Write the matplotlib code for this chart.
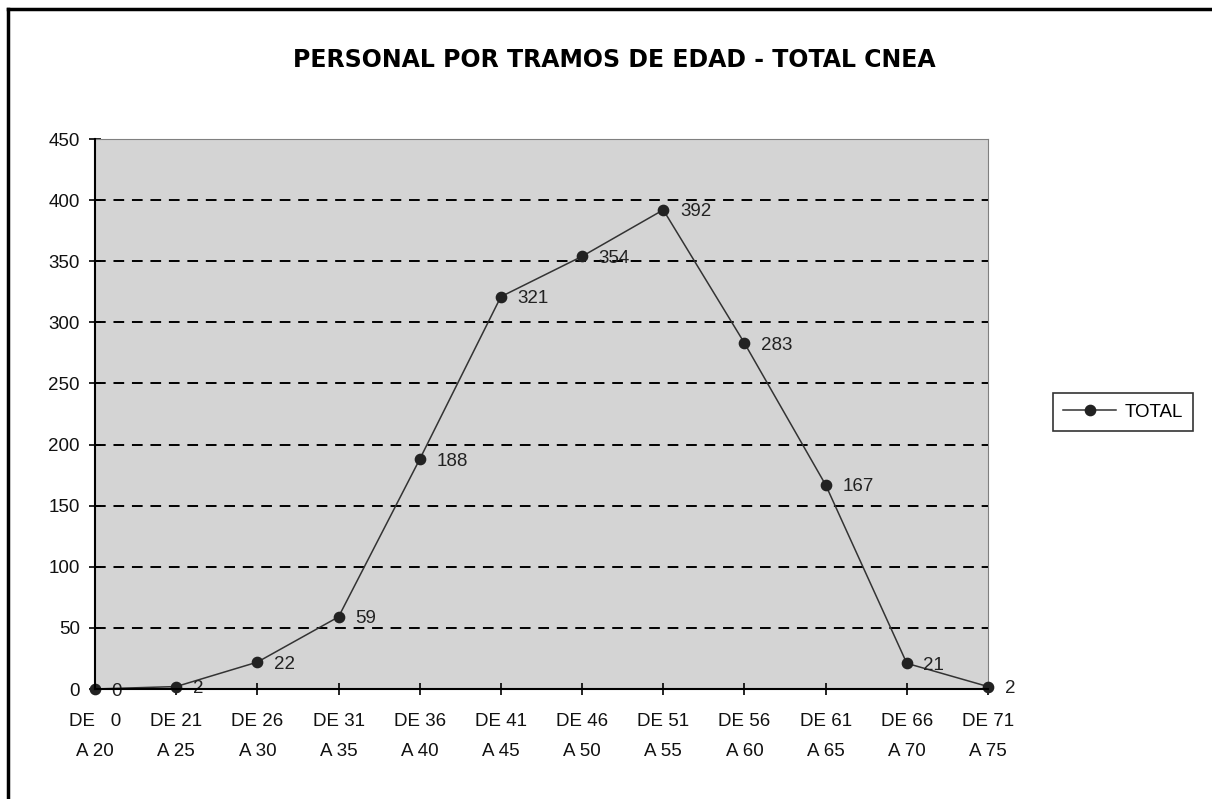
import matplotlib
matplotlib.use("Agg")
import matplotlib.pyplot as plt
from matplotlib.lines import Line2D
import numpy as np

categories = ["DE   0\nA 20", "DE 21\nA 25", "DE 26\nA 30", "DE 31\nA 35", "DE 36\nA 40",
              "DE 41\nA 45", "DE 46\nA 50", "DE 51\nA 55", "DE 56\nA 60", "DE 61\nA 65",
              "DE 66\nA 70", "DE 71\nA 75"]
values = [0, 2, 22, 59, 188, 321, 354, 392, 283, 167, 21, 2]
yticks = [0, 50, 100, 150, 200, 250, 300, 350, 400, 450]
title = "PERSONAL POR TRAMOS DE EDAD - TOTAL CNEA"
series_name = "TOTAL"

plt.rcParams['font.family'] = ['Liberation Sans', 'DejaVu Sans']

W, H = 1212, 799
fig = plt.figure(figsize=(W / 100, H / 100), dpi=100)
ax = fig.add_axes([95 / W, 1 - 689 / H, (988 - 95) / W, (689 - 139) / H])
ax.set_facecolor("#D4D4D4")

x = np.arange(len(values))
y = np.array(values, dtype=float)

ax.plot(x, y, linestyle="-", lw=1.1, color="#333333", marker="o", markersize=7.4,
        markerfacecolor="#222222", markeredgecolor="#222222", zorder=4, clip_on=False)

for xi, yi in zip(x, y):
    ax.annotate(str(int(yi)), (xi, yi), xytext=(12, -1.5), textcoords="offset points",
                ha="left", va="center", fontsize=13.5, color="#222222", zorder=5,
                annotation_clip=False)

ax.set_xlim(0, len(values) - 1)
ax.set_ylim(0, 450)
ax.set_yticks(yticks)
ax.set_yticklabels([str(t) for t in yticks], fontsize=13.5, color="#111111")
ax.set_xticks(x)
ax.set_xticklabels(categories, fontsize=13.5, linespacing=2.0, color="#111111")
ax.tick_params(axis="both", direction="inout", length=8, width=1.2, color="black")
ax.tick_params(axis="y", pad=7)
ax.tick_params(axis="x", pad=13)

ax.yaxis.grid(True, linestyle=(0, (5.5, 4.0)), color="black", linewidth=1.4)
ax.set_axisbelow(True)

ax.spines["left"].set_color("black")
ax.spines["bottom"].set_color("black")
ax.spines["left"].set_linewidth(1.5)
ax.spines["bottom"].set_linewidth(1.5)
ax.spines["left"].set_zorder(5)
ax.spines["bottom"].set_zorder(5)
ax.spines["top"].set_color("#808080")
ax.spines["right"].set_color("#808080")

fig.text(614 / W, 1 - 60 / H, title, ha="center", va="center", fontsize=17,
         fontweight="bold", family=["DejaVu Sans"])

handle = Line2D([], [], color="#333333", marker="o", markersize=7.4,
                markerfacecolor="#222222", markeredgecolor="#222222", lw=1.1)
leg = fig.legend([handle], [series_name], loc="center", bbox_to_anchor=(1123 / W, 1 - 412 / H),
                 fontsize=13.5, frameon=True, fancybox=False, edgecolor="black",
                 handlelength=2.8, borderpad=0.55, handletextpad=0.45, borderaxespad=0)
leg.get_frame().set_linewidth(1.2)

# outer frame (top and left visible)
fig.add_artist(Line2D([8 / W, 8 / W], [0, 1 - 9 / H], color="black", lw=2.5, transform=fig.transFigure))
fig.add_artist(Line2D([8 / W, 1], [1 - 9 / H, 1 - 9 / H], color="black", lw=2.5, transform=fig.transFigure))

fig.savefig("out.png", dpi=100, facecolor="white")
